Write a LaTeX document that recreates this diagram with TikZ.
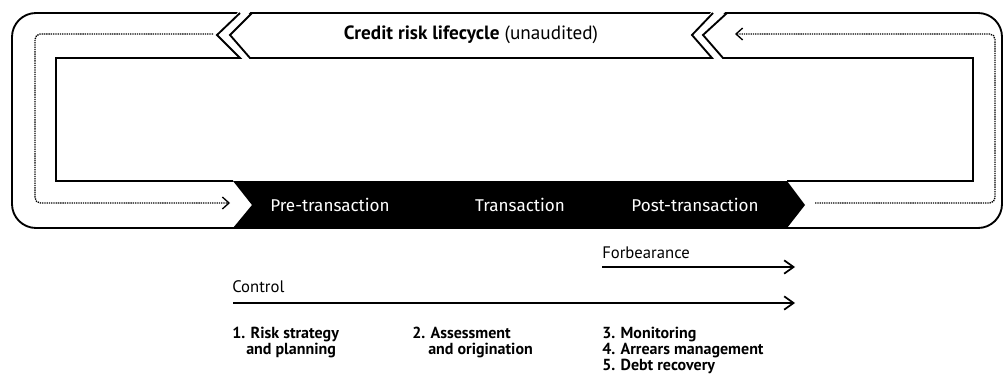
\documentclass[tikz,border=0pt]{standalone}
\usepackage{fontspec}
\setmainfont{PT Sans}
\newfontfamily\bandfont{Fira Sans}
\usetikzlibrary{arrows.meta}

\begin{document}
\begin{tikzpicture}[x=0.75pt,y=-0.75pt,
		frame/.style={black,line width=1.4pt,line join=miter},
		loop/.style={black,line width=1pt,dash pattern=on 1pt off 0.7pt,rounded corners=4pt,-{Straight Barb[length=5pt,width=9pt,line width=1pt]}},
		phase/.style={black,line width=1.3pt,-{Straight Barb[length=7pt,width=10pt]}},
		toptext/.style={font=\fontsize{14.4}{16}\selectfont},
		bandtext/.style={text=white,font=\bandfont\fontsize{12.8}{14}\selectfont},
		steptext/.style={anchor=base west,inner sep=0pt,font=\bfseries\fontsize{12}{14}\selectfont},
		phasetext/.style={anchor=base west,inner sep=0pt,font=\fontsize{12.5}{14}\selectfont}]
			\useasboundingbox (0,0) rectangle (1005,378);
			% outer frame and black band
			\draw[frame,rounded corners=18pt] (12,13) rectangle (1002,228);
			\fill[black] (233,181) -- (787,181) -- (805,205) -- (787,228) -- (233,228) -- (252,205) -- cycle;
			% gaps between the chevrons
			\fill[white] (240,10) -- (252,10) -- (230,35) -- (250,59) -- (240,59) -- (217,35) -- cycle;
			\fill[white] (713,10) -- (727,10) -- (703,35) -- (723,59) -- (712,59) -- (692,35) -- cycle;
			\draw[frame] (240,13) -- (217,35) -- (240,58) -- (56,58) -- (56,181) -- (233,181);
			\draw[frame] (252,13) -- (230,35) -- (250,58) -- (712,58) -- (692,35) -- (713,13);
			\draw[frame] (727,13) -- (703,35) -- (723,58) -- (973,58) -- (973,181) -- (787,181);

			\node[toptext] (title) at (471,35) {\textbf{Credit risk lifecycle} (unaudited)};
			\node[bandtext] (pre) at (330,205) {Pre-transaction};
			\node[bandtext] (trans) at (520,205) {Transaction};
			\node[bandtext] (post) at (695,205) {Post-transaction};

			% dotted loops
			\coordinate (lstart) at (213,34);
			\coordinate (lend) at (230,203);
			\coordinate (rstart) at (815,203);
			\coordinate (rend) at (735,34);
			\draw[loop] (lstart) -- (35,34) -- (35,203) -- (lend);
			\draw[loop] (rstart) -- (995,203) -- (995,34) -- (rend);

			% phases
			\node[phasetext] (forb) at (602,258) {Forbearance};
			\node[phasetext] (ctrl) at (232,292) {Control};
			\coordinate (fstart) at (602,267);
			\coordinate (fend) at (795,267);
			\coordinate (cstart) at (233,303);
			\coordinate (cend) at (795,303);
			\draw[phase] (fstart) -- (fend);
			\draw[phase] (cstart) -- (cend);

			\node[steptext] (s1) at (232,338) {1. Risk strategy};
			\node[steptext] (s1b) at (246,354) {and planning};
			\node[steptext] (s2) at (412,338) {2. Assessment};
			\node[steptext] (s2b) at (428,354) {and origination};
			\foreach \t [count=\i] in {3. Monitoring, 4. Arrears management, 5. Debt recovery}
				\node[steptext] (s\i m) at (602, 322 + 16*\i) {\t};
		\end{tikzpicture}
\end{document}
